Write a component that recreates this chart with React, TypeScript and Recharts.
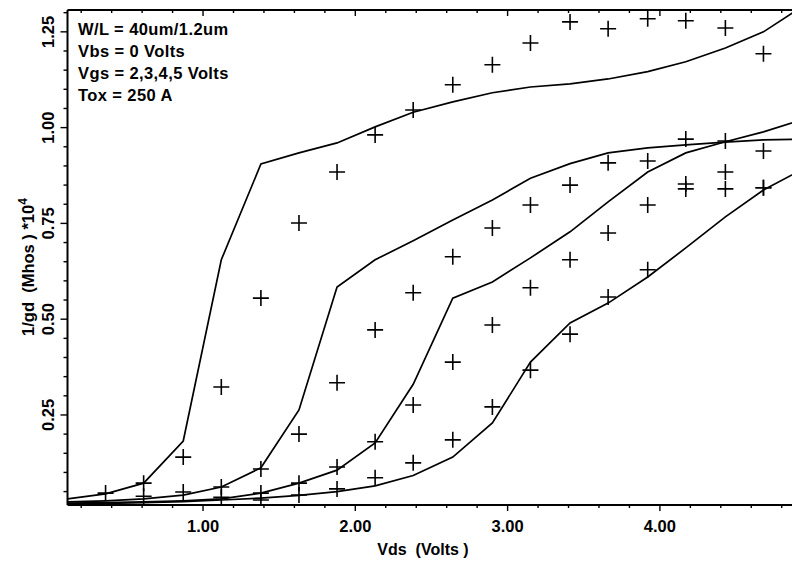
import { ComposedChart, Line, Scatter, XAxis, YAxis } from 'recharts'

// Vds positions (Volts) of the simulated curves and of the measured points
const vdsSim = [0.11, 0.36, 0.61, 0.87, 1.12, 1.38, 1.63, 1.88, 2.13, 2.38, 2.64, 2.9, 3.15, 3.41, 3.66, 3.92, 4.17, 4.43, 4.68, 4.93]
const vdsMeas = [0.36, 0.61, 0.87, 1.12, 1.38, 1.63, 1.88, 2.13, 2.38, 2.64, 2.9, 3.15, 3.41, 3.66, 3.92, 4.17, 4.43, 4.68]

// simulated 1/gd (*10^4), one curve per Vgs
const simVgs2 = [0.031, 0.044, 0.072, 0.182, 0.655, 0.905, 0.934, 0.96, 1.002, 1.04, 1.067, 1.091, 1.106, 1.114, 1.127, 1.146, 1.172, 1.208, 1.25, 1.315]
const simVgs3 = [0.023, 0.026, 0.031, 0.041, 0.062, 0.112, 0.263, 0.584, 0.655, 0.705, 0.759, 0.811, 0.868, 0.906, 0.934, 0.947, 0.955, 0.962, 0.968, 0.97]
const simVgs4 = [0.02, 0.021, 0.023, 0.026, 0.031, 0.046, 0.072, 0.106, 0.177, 0.33, 0.555, 0.597, 0.66, 0.728, 0.806, 0.884, 0.934, 0.963, 0.989, 1.02]
const simVgs5 = [0.018, 0.019, 0.021, 0.024, 0.028, 0.033, 0.04, 0.05, 0.065, 0.092, 0.14, 0.229, 0.388, 0.49, 0.542, 0.61, 0.686, 0.767, 0.837, 0.89]

// measured points (null = hidden in the bottom bundle)
const measVgs2 = [0.046, 0.072, 0.14, 0.323, 0.555, 0.751, 0.884, 0.981, 1.046, 1.112, 1.164, 1.221, 1.276, 1.258, 1.284, 1.279, 1.26, 1.193]
const measVgs3 = [null, 0.038, 0.049, 0.062, 0.109, 0.2, 0.334, 0.472, 0.569, 0.663, 0.738, 0.798, 0.85, 0.908, 0.913, 0.97, 0.965, 0.939]
const measVgs4 = [null, null, null, 0.035, 0.046, 0.072, 0.114, 0.18, 0.276, 0.388, 0.485, 0.582, 0.655, 0.725, 0.798, 0.853, 0.884, 0.843]
const measVgs5 = [null, null, null, null, 0.028, 0.041, 0.057, 0.086, 0.125, 0.185, 0.271, 0.367, 0.461, 0.558, 0.629, 0.84, 0.84, 0.843]

const xTicks = [0.2, 0.4, 0.6, 0.8, 1, 1.2, 1.4, 1.6, 1.8, 2, 2.2, 2.4, 2.6, 2.8, 3, 3.2, 3.4, 3.6, 3.8, 4, 4.2, 4.4, 4.6, 4.8, 5]
const xLabelled = [1, 2, 3, 4]
const yTicks = [0.05, 0.1, 0.15, 0.2, 0.25, 0.3, 0.35, 0.4, 0.45, 0.5, 0.55, 0.6, 0.65, 0.7, 0.75, 0.8, 0.85, 0.9, 0.95, 1, 1.05, 1.1, 1.15, 1.2, 1.25, 1.3]

const notes = ['W/L = 40um/1.2um', 'Vbs = 0 Volts', 'Vgs = 2,3,4,5 Volts', 'Tox = 250 A']

const X_DOMAIN: [number, number] = [0.11, 5.117]
const Y_DOMAIN: [number, number] = [0.015, 1.307]
const FONT = '"Liberation Sans", Arial, Helvetica, sans-serif'

const toPoints = (xs: number[], ys: (number | null)[]) =>
  xs.map((x, i) => ({ x, y: ys[i] })).filter((p) => p.y !== null)

const isMajor = (v: number, step: number) => Math.abs(v / step - Math.round(v / step)) < 1e-6

function BottomTick(props: any) {
  const { x, y, payload } = props
  const major = isMajor(payload.value, 1)
  const labelled = xLabelled.some((v) => Math.abs(v - payload.value) < 1e-6)
  return (
    <g>
      <line x1={x} x2={x} y1={y} y2={y + (major ? 6 : 3)} stroke="#000" strokeWidth={1.4} />
      {labelled && (
        <text x={x} y={y + 27} textAnchor="middle" fontFamily={FONT} fontSize={16.5} fontWeight="bold" fill="#000">
          {payload.value.toFixed(2)}
        </text>
      )}
    </g>
  )
}

function TopTick(props: any) {
  const { x, y, payload } = props
  const major = isMajor(payload.value, 1)
  return <line x1={x} x2={x} y1={y} y2={y + (major ? 6 : 3)} stroke="#000" strokeWidth={1.4} />
}

function LeftTick(props: any) {
  const { x, y, payload } = props
  const major = isMajor(payload.value, 0.25)
  const lx = x - 13.5
  return (
    <g>
      <line x1={x - (major ? 7 : 4)} x2={x} y1={y} y2={y} stroke="#000" strokeWidth={1.4} />
      {major && (
        <text
          transform={`translate(${lx},${y}) rotate(-90)`}
          textAnchor="middle"
          fontFamily={FONT}
          fontSize={16.5}
          fontWeight="bold"
          fill="#000"
        >
          {payload.value.toFixed(2)}
        </text>
      )}
    </g>
  )
}

function Plus(props: any) {
  const { cx, cy } = props
  if (cx == null || cy == null) return <g />
  return <path d={`M${cx - 8},${cy}H${cx + 8}M${cx},${cy - 8}V${cy + 8}`} stroke="#000" strokeWidth={1.6} fill="none" />
}

const XLabel = () => (
  <text x={423} y={555} textAnchor="middle" fontFamily={FONT} fontSize={16} fontWeight="bold" fill="#000" style={{ whiteSpace: 'pre' }}>
    {'Vds  (Volts )'}
  </text>
)

const YLabel = () => (
  <text transform="translate(34,267) rotate(-90)" textAnchor="middle" fontFamily={FONT} fontSize={16.5} fontWeight="bold" fill="#000" style={{ whiteSpace: 'pre' }}>
    {'1/gd  (Mhos ) *10'}
    <tspan dy={-7} fontSize={12}>4</tspan>
  </text>
)

const simSeries = [simVgs2, simVgs3, simVgs4, simVgs5]
const measSeries = [measVgs2, measVgs3, measVgs4, measVgs5]

export default function App() {
  return (
    <div style={{ position: 'absolute', left: 0, top: 0, width: 792, height: 563, overflow: 'hidden', background: '#fff' }}>
      <ComposedChart width={830} height={563} margin={{ top: 9, right: 0, bottom: 0, left: 0 }}>
        <XAxis
          xAxisId="top"
          orientation="top"
          type="number"
          dataKey="x"
          domain={X_DOMAIN}
          allowDataOverflow
          ticks={xTicks}
          interval={0}
          height={1}
          tick={TopTick}
          tickLine={false}
          tickSize={0}
          tickMargin={0}
          axisLine={{ stroke: '#000', strokeWidth: 2 }}
        />
        <XAxis
          type="number"
          dataKey="x"
          domain={X_DOMAIN}
          allowDataOverflow
          ticks={xTicks}
          interval={0}
          height={58}
          tick={BottomTick}
          tickLine={false}
          tickSize={0}
          tickMargin={0}
          axisLine={{ stroke: '#000', strokeWidth: 2 }}
          label={XLabel}
        />
        <YAxis
          type="number"
          domain={Y_DOMAIN}
          allowDataOverflow
          ticks={yTicks}
          interval={0}
          width={67.5}
          tick={LeftTick}
          tickLine={false}
          tickSize={0}
          tickMargin={0}
          axisLine={{ stroke: '#000', strokeWidth: 2 }}
          label={YLabel}
        />
        {simSeries.map((ys, i) => (
          <Line
            key={`sim${i}`}
            data={toPoints(vdsSim, ys)}
            dataKey="y"
            type="linear"
            stroke="#000"
            strokeWidth={1.7}
            dot={false}
            activeDot={false}
            isAnimationActive={false}
          />
        ))}
        {measSeries.map((ys, i) => (
          <Scatter key={`meas${i}`} data={toPoints(vdsMeas, ys)} dataKey="y" shape={Plus} isAnimationActive={false} />
        ))}
      </ComposedChart>
      <div
        style={{
          position: 'absolute',
          left: 78,
          top: 19.4,
          fontFamily: FONT,
          fontSize: 16.5,
          fontWeight: 'bold',
          lineHeight: '21.7px',
          letterSpacing: 0.4,
          color: '#000',
          whiteSpace: 'pre',
        }}
      >
        {notes.map((n) => (
          <div key={n}>{n}</div>
        ))}
      </div>
    </div>
  )
}
